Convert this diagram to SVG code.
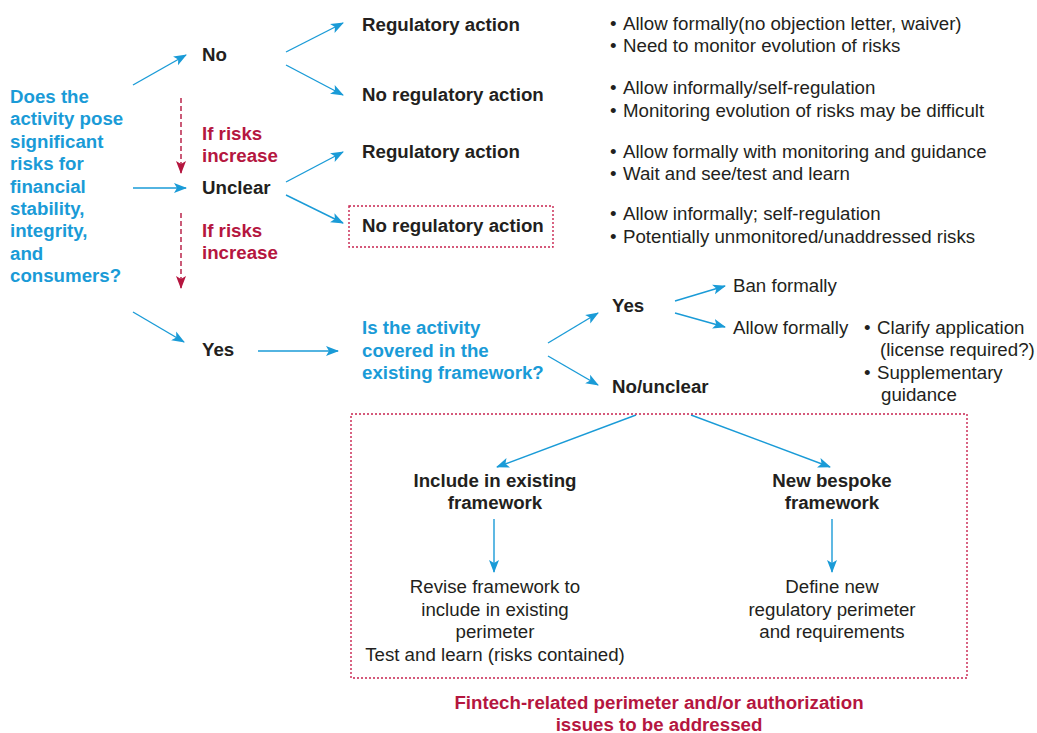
<svg xmlns="http://www.w3.org/2000/svg" width="1037" height="733" viewBox="0 0 1037 733">
<style>
text{font-family:"Liberation Sans",Arial,sans-serif;font-size:18.7px;fill:#231f20}
.b{font-weight:bold}
.blue{fill:#1a9bd7;font-weight:bold}
.red{fill:#b5163f;font-weight:bold}
.mid{text-anchor:middle}
.arr{stroke:#1a9bd7;stroke-width:1.4;fill:none;marker-end:url(#ab)}
.darr{stroke:#b5163f;stroke-width:1.4;fill:none;stroke-dasharray:5 3;marker-end:url(#ar)}
.dbox{fill:none;stroke:#c8234f;stroke-width:1.4;stroke-dasharray:2 2}
</style>
<defs>
<marker id="ab" markerUnits="userSpaceOnUse" markerWidth="14" markerHeight="12" refX="12" refY="5" orient="auto" viewBox="0 0 14 10">
<path d="M0,0 L13,5 L0,10 L3,5 z" fill="#1a9bd7"/>
</marker>
<marker id="ar" markerUnits="userSpaceOnUse" markerWidth="14" markerHeight="12" refX="12" refY="5" orient="auto" viewBox="0 0 14 10">
<path d="M0,0 L13,5 L0,10 L3,5 z" fill="#b5163f"/>
</marker>
</defs>
<g id="connectors">
<line class="arr" x1="133" y1="85" x2="186" y2="55"/>
<line class="arr" x1="133" y1="188" x2="186" y2="188"/>
<line class="arr" x1="133" y1="312" x2="184" y2="342"/>
<line class="darr" x1="181" y1="98" x2="181" y2="173"/>
<line class="darr" x1="181" y1="213" x2="181" y2="288"/>
<line class="arr" x1="286" y1="52" x2="343" y2="23"/>
<line class="arr" x1="286" y1="65" x2="343" y2="95"/>
<line class="arr" x1="286" y1="182" x2="343" y2="152"/>
<line class="arr" x1="286" y1="195" x2="343" y2="223"/>
<line class="arr" x1="258" y1="351" x2="338" y2="351"/>
<line class="arr" x1="548" y1="343" x2="598" y2="313"/>
<line class="arr" x1="548" y1="356" x2="598" y2="385"/>
<line class="arr" x1="675" y1="301" x2="725" y2="286"/>
<line class="arr" x1="675" y1="313" x2="725" y2="327"/>
<line class="arr" x1="636" y1="415" x2="497" y2="467"/>
<line class="arr" x1="691" y1="415" x2="830" y2="467"/>
<line class="arr" x1="494" y1="519" x2="494" y2="572"/>
<line class="arr" x1="832" y1="519" x2="832" y2="572"/>
</g>
<g id="question1">
<text class="blue" x="10" y="103">Does the</text>
<text class="blue" x="10" y="125.4">activity pose</text>
<text class="blue" x="10" y="147.8">significant</text>
<text class="blue" x="10" y="170.2">risks for</text>
<text class="blue" x="10" y="192.6">financial</text>
<text class="blue" x="10" y="215">stability,</text>
<text class="blue" x="10" y="237.4">integrity,</text>
<text class="blue" x="10" y="259.8">and</text>
<text class="blue" x="10" y="282.2">consumers?</text>
</g>
<g id="no"><text class="b" x="202" y="61">No</text></g>
<g id="unclear"><text class="b" x="202" y="194">Unclear</text></g>
<g id="yes"><text class="b" x="202" y="356">Yes</text></g>
<g id="risk1"><text class="red" x="202" y="139.5">If risks</text><text class="red" x="202" y="162">increase</text></g>
<g id="risk2"><text class="red" x="202" y="236.5">If risks</text><text class="red" x="202" y="259">increase</text></g>
<g id="reg1"><text class="b" x="362" y="30.5">Regulatory action</text></g>
<g id="noreg1"><text class="b" x="362" y="101">No regulatory action</text></g>
<g id="reg2"><text class="b" x="362" y="158">Regulatory action</text></g>
<g id="noreg2"><rect class="dbox" x="349" y="206" width="204" height="41"/><text class="b" x="362" y="232">No regulatory action</text></g>
<g id="notes1">
<text x="610" y="29.5">•</text><text x="623" y="29.5">Allow formally(no objection letter, waiver)</text>
<text x="610" y="52">•</text><text x="623" y="52">Need to monitor evolution of risks</text>
</g>
<g id="notes2">
<text x="610" y="94">•</text><text x="623" y="94">Allow informally/self-regulation</text>
<text x="610" y="116.5">•</text><text x="623" y="116.5">Monitoring evolution of risks may be difficult</text>
</g>
<g id="notes3">
<text x="610" y="157.5">•</text><text x="623" y="157.5">Allow formally with monitoring and guidance</text>
<text x="610" y="180">•</text><text x="623" y="180">Wait and see/test and learn</text>
</g>
<g id="notes4">
<text x="610" y="220">•</text><text x="623" y="220">Allow informally; self-regulation</text>
<text x="610" y="242.5">•</text><text x="623" y="242.5">Potentially unmonitored/unaddressed risks</text>
</g>
<g id="question2">
<text class="blue" x="362" y="334">Is the activity</text>
<text class="blue" x="362" y="356.5">covered in the</text>
<text class="blue" x="362" y="379">existing framework?</text>
</g>
<g id="yes2"><text class="b" x="612" y="312">Yes</text></g>
<g id="nounclear"><text class="b" x="612" y="392.5">No/unclear</text></g>
<g id="ban"><text x="733" y="292">Ban formally</text></g>
<g id="allow"><text x="733" y="333.5">Allow formally</text></g>
<g id="notes5">
<text x="864" y="333.5">•</text><text x="877" y="333.5">Clarify application</text>
<text x="880" y="356">(license required?)</text>
<text x="864" y="378.5">•</text><text x="877" y="378.5">Supplementary</text>
<text x="881" y="401">guidance</text>
</g>
<g id="perimeter">
<rect class="dbox" x="351" y="414" width="616" height="264"/>
</g>
<g id="include">
<text class="b mid" x="495" y="486.5">Include in existing</text>
<text class="b mid" x="495" y="508.5">framework</text>
</g>
<g id="bespoke">
<text class="b mid" x="832" y="486.5">New bespoke</text>
<text class="b mid" x="832" y="508.5">framework</text>
</g>
<g id="revise">
<text class="mid" x="495" y="593">Revise framework to</text>
<text class="mid" x="495" y="615.5">include in existing</text>
<text class="mid" x="495" y="638">perimeter</text>
<text class="mid" x="495" y="660.5">Test and learn (risks contained)</text>
</g>
<g id="define">
<text class="mid" x="832" y="593">Define new</text>
<text class="mid" x="832" y="615.5">regulatory perimeter</text>
<text class="mid" x="832" y="638">and requirements</text>
</g>
<g id="caption">
<text class="red mid" x="659" y="709">Fintech-related perimeter and/or authorization</text>
<text class="red mid" x="659" y="731">issues to be addressed</text>
</g>
</svg>
